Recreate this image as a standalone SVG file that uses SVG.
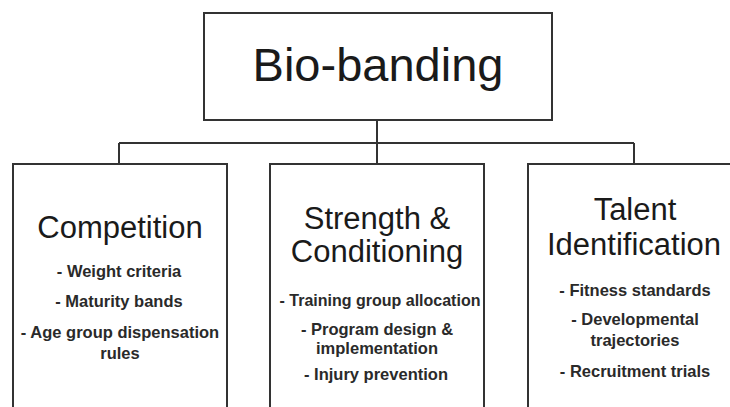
<svg xmlns="http://www.w3.org/2000/svg" width="730" height="407" viewBox="0 0 730 407">
<style>
.box{fill:#fff;stroke:#333;stroke-width:2}
.conn{fill:none;stroke:#333;stroke-width:2}
.title{font-family:"Liberation Sans",Arial,sans-serif;font-size:47px;fill:#1a1a1a;text-anchor:middle}
.head{font-family:"Liberation Sans",Arial,sans-serif;font-size:31px;fill:#1a1a1a;text-anchor:middle}
.item{font-family:"Liberation Sans",Arial,sans-serif;font-size:16.5px;font-weight:bold;fill:#2a2a2a;text-anchor:middle}
</style>
<rect width="730" height="407" fill="#fff"/>
<g id="connectors">
<path class="conn" d="M377 120V143M119 143H634M119 143V164M377 143V164M634 143V164"/>
</g>
<g id="bio-banding">
<rect class="box" x="204" y="13" width="348" height="107"/>
<text class="title" x="378" y="81">Bio-banding</text>
</g>
<g id="competition">
<rect class="box" x="13" y="164" width="214" height="260"/>
<text class="head" x="120" y="238">Competition</text>
<text class="item" x="119" y="277">- Weight criteria</text>
<text class="item" x="119" y="307">- Maturity bands</text>
<text class="item" x="120" y="338">- Age group dispensation</text>
<text class="item" x="120" y="359">rules</text>
</g>
<g id="strength">
<rect class="box" x="270" y="164" width="214" height="260"/>
<text class="head" x="377" y="229">Strength &amp;</text>
<text class="head" x="377" y="262">Conditioning</text>
<text class="item" x="380" y="306" style="font-size:16px">- Training group allocation</text>
<text class="item" x="377" y="335">- Program design &amp;</text>
<text class="item" x="377" y="354">implementation</text>
<text class="item" x="376" y="380">- Injury prevention</text>
</g>
<g id="talent">
<rect class="box" x="528" y="164" width="214" height="260"/>
<text class="head" x="635" y="220">Talent</text>
<text class="head" x="634" y="255">Identification</text>
<text class="item" x="635" y="296">- Fitness standards</text>
<text class="item" x="635" y="325">- Developmental</text>
<text class="item" x="635" y="346">trajectories</text>
<text class="item" x="635" y="377">- Recruitment trials</text>
</g>
</svg>
